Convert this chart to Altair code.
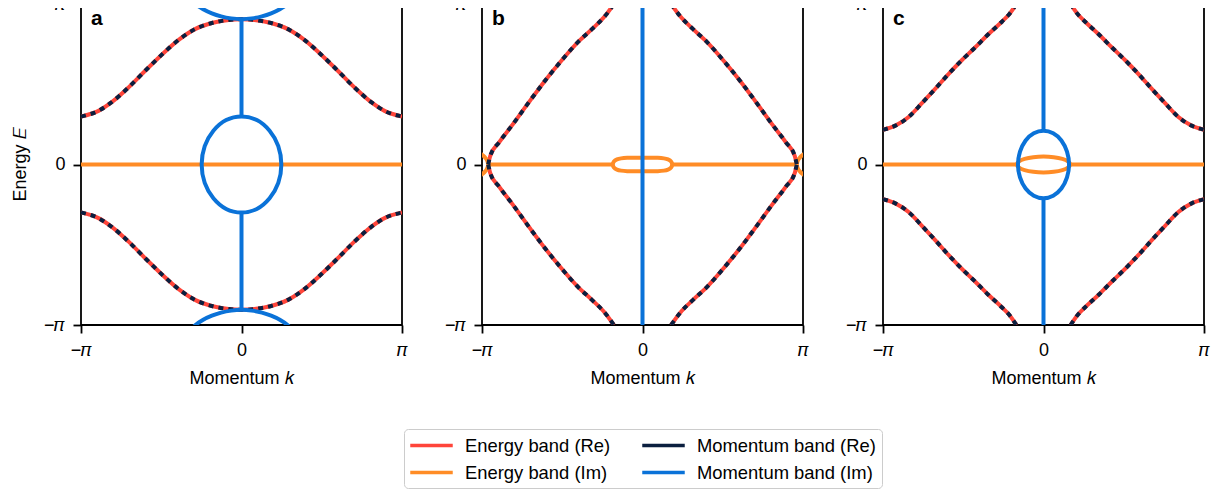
import altair as alt
import pandas as pd

PI = 3.141592653589793

SERIES = ["Energy band (Re)", "Energy band (Im)", "Momentum band (Re)", "Momentum band (Im)"]
COLORS = ["#FF453A", "#FF8C26", "#0B1F3F", "#0A72D8"]
PANEL_LABELS = ["a", "b", "c"]
TICK_VALUES = [-PI, 0.0, PI]

# ---------------- panel a ----------------
A_BAND_K = [-PI, -2.80, -2.54, -2.21, -1.88, -1.56, -1.23, -0.91, -0.58, -0.25, 0.0,
            0.25, 0.58, 0.91, 1.23, 1.56, 1.88, 2.21, 2.54, 2.80, PI]
A_UPPER_E = [0.94, 1.05, 1.22, 1.51, 1.84, 2.15, 2.44, 2.65, 2.77, 2.83, 2.845,
             2.83, 2.77, 2.65, 2.44, 2.15, 1.84, 1.51, 1.22, 1.05, 0.94]
A_LOWER_E = [-0.94, -1.05, -1.22, -1.51, -1.84, -2.15, -2.44, -2.65, -2.77, -2.83, -2.845,
             -2.83, -2.77, -2.65, -2.44, -2.15, -1.84, -1.51, -1.22, -1.05, -0.94]
A_ARC_K = [-1.0, -0.9, -0.75, -0.58, -0.4, -0.2, 0.0, 0.2, 0.4, 0.58, 0.75, 0.9, 1.0]
A_ARC_TOP_E = [3.24, 3.14, 3.04, 2.96, 2.90, 2.86, 2.845, 2.86, 2.90, 2.96, 3.04, 3.14, 3.24]
A_ARC_BOT_E = [-3.24, -3.14, -3.04, -2.96, -2.90, -2.86, -2.845, -2.86, -2.90, -2.96, -3.04, -3.14, -3.24]
STEM_K = [0.0, 0.0]
A_STEM_TOP_E = [0.94, 2.845]
A_STEM_BOT_E = [-0.94, -2.845]
A_LOOP_K = [0.78, 0.72, 0.55, 0.30, 0.0, -0.30, -0.55, -0.72,
            -0.78, -0.72, -0.55, -0.30, 0.0, 0.30, 0.55, 0.72]
A_LOOP_E = [0.0, 0.36, 0.66, 0.87, 0.94, 0.87, 0.66, 0.36,
            0.0, -0.36, -0.66, -0.87, -0.94, -0.87, -0.66, -0.36]
A_FLAT_K = [-PI, PI]
FLAT_E = [0.0, 0.0]

# ---------------- panel b ----------------
B_LEFT_K = [-3.02, -2.98, -2.81, -2.55, -2.23, -1.90, -1.58, -1.25, -0.99, -0.73, -0.56]
B_LEFT_UP_E = [0.0, 0.17, 0.43, 0.77, 1.21, 1.65, 2.04, 2.41, 2.65, 2.91, PI]
B_LEFT_DN_E = [0.0, -0.17, -0.43, -0.77, -1.21, -1.65, -2.04, -2.41, -2.65, -2.91, -PI]
B_RIGHT_K = [0.56, 0.73, 0.99, 1.25, 1.58, 1.90, 2.23, 2.55, 2.81, 2.98, 3.02]
B_RIGHT_UP_E = [PI, 2.91, 2.65, 2.41, 2.04, 1.65, 1.21, 0.77, 0.43, 0.17, 0.0]
B_RIGHT_DN_E = [-PI, -2.91, -2.65, -2.41, -2.04, -1.65, -1.21, -0.77, -0.43, -0.17, 0.0]
B_FLAT_L_K = [-3.02, -0.58]
B_FLAT_R_K = [0.58, 3.02]
B_LOOP_K = [0.58, 0.56, 0.50, 0.42, 0.30, 0.15, 0.0, -0.15, -0.30, -0.42, -0.50, -0.56,
            -0.58, -0.56, -0.50, -0.42, -0.30, -0.15, 0.0, 0.15, 0.30, 0.42, 0.50, 0.56]
B_LOOP_E = [0.0, 0.06, 0.10, 0.12, 0.13, 0.13, 0.13, 0.13, 0.13, 0.12, 0.10, 0.06,
            0.0, -0.06, -0.10, -0.12, -0.13, -0.13, -0.13, -0.13, -0.13, -0.12, -0.10, -0.06]
B_EDGE_L_K = [-3.22, -3.14, -3.08, -3.05, -3.03, -3.02]
B_EDGE_L_UP_E = [0.25, 0.19, 0.135, 0.095, 0.05, 0.0]
B_EDGE_L_DN_E = [-0.25, -0.19, -0.135, -0.095, -0.05, 0.0]
B_EDGE_R_K = [3.02, 3.03, 3.05, 3.08, 3.14, 3.22]
B_EDGE_R_UP_E = [0.0, 0.05, 0.095, 0.135, 0.19, 0.25]
B_EDGE_R_DN_E = [0.0, -0.05, -0.095, -0.135, -0.19, -0.25]
B_STEM_E = [-PI, PI]

# ---------------- panel c ----------------
C_LEFT_K = [-PI, -2.90, -2.64, -2.38, -2.12, -1.86, -1.60, -1.34, -1.08, -0.81, -0.68, -0.53]
C_LEFT_UP_E = [0.68, 0.76, 0.93, 1.20, 1.48, 1.77, 2.04, 2.29, 2.55, 2.80, 2.93, PI]
C_LEFT_DN_E = [-0.68, -0.76, -0.93, -1.20, -1.48, -1.77, -2.04, -2.29, -2.55, -2.80, -2.93, -PI]
C_RIGHT_K = [0.53, 0.68, 0.81, 1.08, 1.34, 1.60, 1.86, 2.12, 2.38, 2.64, 2.90, PI]
C_RIGHT_UP_E = [PI, 2.93, 2.80, 2.55, 2.29, 2.04, 1.77, 1.48, 1.20, 0.93, 0.76, 0.68]
C_RIGHT_DN_E = [-PI, -2.93, -2.80, -2.55, -2.29, -2.04, -1.77, -1.48, -1.20, -0.93, -0.76, -0.68]
C_FLAT_L_K = [-PI, -0.52]
C_FLAT_R_K = [0.52, PI]
C_STEM_TOP_E = [0.66, PI]
C_STEM_BOT_E = [-0.66, -PI]
C_BLUE_LOOP_K = [0.50, 0.46, 0.35, 0.19, 0.0, -0.19, -0.35, -0.46,
                 -0.50, -0.46, -0.35, -0.19, 0.0, 0.19, 0.35, 0.46]
C_BLUE_LOOP_E = [0.0, 0.25, 0.47, 0.61, 0.66, 0.61, 0.47, 0.25,
                 0.0, -0.25, -0.47, -0.61, -0.66, -0.61, -0.47, -0.25]
C_ORANGE_LOOP_K = [0.52, 0.48, 0.37, 0.20, 0.0, -0.20, -0.37, -0.48,
                   -0.52, -0.48, -0.37, -0.20, 0.0, 0.20, 0.37, 0.48]
C_ORANGE_LOOP_E = [0.0, 0.06, 0.11, 0.143, 0.155, 0.143, 0.11, 0.06,
                   0.0, -0.06, -0.11, -0.143, -0.155, -0.143, -0.11, -0.06]

E_RE, E_IM, M_RE, M_IM = SERIES
rows = []


def add(panel, series, curve, ks, es, closed=0):
    for i, (k, e) in enumerate(zip(ks, es)):
        rows.append(dict(panel=panel, series=series, curve=curve, idx=i, k=k, E=e, closed=closed))


def add_real(panel, curve, ks, es):
    add(panel, E_RE, curve, ks, es)
    add(panel, M_RE, curve, ks, es)


# panel a
add_real("a", "up", A_BAND_K, A_UPPER_E)
add_real("a", "dn", A_BAND_K, A_LOWER_E)
add("a", E_IM, "flat", A_FLAT_K, FLAT_E)
add("a", M_IM, "arc_top", A_ARC_K, A_ARC_TOP_E)
add("a", M_IM, "arc_bot", A_ARC_K, A_ARC_BOT_E)
add("a", M_IM, "stem_top", STEM_K, A_STEM_TOP_E)
add("a", M_IM, "stem_bot", STEM_K, A_STEM_BOT_E)
add("a", M_IM, "loop", A_LOOP_K, A_LOOP_E, closed=1)

# panel b
add_real("b", "lu", B_LEFT_K, B_LEFT_UP_E)
add_real("b", "ld", B_LEFT_K, B_LEFT_DN_E)
add_real("b", "ru", B_RIGHT_K, B_RIGHT_UP_E)
add_real("b", "rd", B_RIGHT_K, B_RIGHT_DN_E)
add("b", E_IM, "flat_l", B_FLAT_L_K, FLAT_E)
add("b", E_IM, "flat_r", B_FLAT_R_K, FLAT_E)
add("b", E_IM, "edge_lu", B_EDGE_L_K, B_EDGE_L_UP_E)
add("b", E_IM, "edge_ld", B_EDGE_L_K, B_EDGE_L_DN_E)
add("b", E_IM, "edge_ru", B_EDGE_R_K, B_EDGE_R_UP_E)
add("b", E_IM, "edge_rd", B_EDGE_R_K, B_EDGE_R_DN_E)
add("b", E_IM, "loop", B_LOOP_K, B_LOOP_E, closed=1)
add("b", M_IM, "stem", STEM_K, B_STEM_E)

# panel c
add_real("c", "lu", C_LEFT_K, C_LEFT_UP_E)
add_real("c", "ld", C_LEFT_K, C_LEFT_DN_E)
add_real("c", "ru", C_RIGHT_K, C_RIGHT_UP_E)
add_real("c", "rd", C_RIGHT_K, C_RIGHT_DN_E)
add("c", E_IM, "flat_l", C_FLAT_L_K, FLAT_E)
add("c", E_IM, "flat_r", C_FLAT_R_K, FLAT_E)
add("c", E_IM, "loop", C_ORANGE_LOOP_K, C_ORANGE_LOOP_E, closed=1)
add("c", M_IM, "stem_top", STEM_K, C_STEM_TOP_E)
add("c", M_IM, "stem_bot", STEM_K, C_STEM_BOT_E)
add("c", M_IM, "loop", C_BLUE_LOOP_K, C_BLUE_LOOP_E, closed=1)

df = pd.DataFrame(rows)

FONT = "Liberation Sans"
LABEL_EXPR = "datum.value < -1 ? '\u2212\U0001D70B' : (datum.value > 1 ? '\U0001D70B' : '0')"


def panel_chart(p, label, show_ytitle):
    base = alt.Chart(df).transform_filter(alt.datum.panel == p)
    x = alt.X("k:Q",
              scale=alt.Scale(domain=[-PI, PI], nice=False, zero=False),
              axis=alt.Axis(values=TICK_VALUES, labelExpr=LABEL_EXPR, title="Momentum \U0001D458"))
    if show_ytitle:
        yaxis = alt.Axis(values=TICK_VALUES, labelExpr=LABEL_EXPR, title="Energy \U0001D438")
    else:
        yaxis = alt.Axis(values=TICK_VALUES, labelExpr=LABEL_EXPR, title=None)
    y = alt.Y("E:Q", scale=alt.Scale(domain=[-PI, PI], nice=False, zero=False), axis=yaxis)
    color = alt.Color("series:N",
                      scale=alt.Scale(domain=SERIES, range=COLORS),
                      legend=alt.Legend(orient="none", legendX=323, legendY=425, columns=2,
                                        title=None, symbolType="M-2.5,0H2.5", symbolSize=289,
                                        symbolStrokeWidth=3.5, symbolOffset=11, symbolDash=[1, 0],
                                        labelFontSize=18.4, labelOffset=23, labelLimit=400,
                                        columnPadding=24, rowPadding=7, padding=6,
                                        strokeColor="#CCCCCC", fillColor="white",
                                        cornerRadius=4))

    def layer(series, closed, width, dash=None):
        kw = dict(strokeWidth=width, clip=True,
                  interpolate="cardinal-closed" if closed else "monotone")
        if dash:
            kw["strokeDash"] = dash
        return (base.transform_filter((alt.datum.series == series) & (alt.datum.closed == closed))
                .mark_line(**kw)
                .encode(x=x, y=y, color=color, detail="curve:N", order="idx:Q"))

    lbl = (alt.Chart(pd.DataFrame({"t": [label]}))
           .mark_text(align="left", baseline="alphabetic", fontSize=21, fontWeight="bold",
                      font=FONT, color="black")
           .encode(text="t:N", x=alt.value(10), y=alt.value(21)))

    return alt.layer(
        layer(E_RE, 0, 4),
        layer(E_IM, 0, 4),
        layer(E_IM, 1, 4),
        layer(M_RE, 0, 4, dash=[5, 5]),
        layer(M_IM, 0, 4),
        layer(M_IM, 1, 4),
        lbl,
    ).properties(width=321, height=321)


charts = [panel_chart(p, p, p == "a") for p in PANEL_LABELS]

chart = (alt.hconcat(*charts, spacing=80, bounds="flush")
         .properties(padding={"left": 2, "top": -14, "right": 0, "bottom": 0})
         .configure(font=FONT)
         .configure_view(stroke="black", strokeWidth=1.8)
         .configure_axis(domain=False, grid=False, ticks=True, tickColor="black",
                         tickWidth=1.8, tickSize=8, labelFontSize=18, labelColor="black",
                         labelFont=FONT, titleFont=FONT, titleFontSize=18,
                         titleFontWeight="normal", titleColor="black", labelPadding=8,
                         labelFlush=False, labelOverlap=False)
         .configure_axisY(titlePadding=14)
         .configure_axisX(titlePadding=10)
         .configure_legend(labelFont=FONT, labelColor="black"))

chart.save("out.html", embed_options={"renderer": "svg", "actions": False})
